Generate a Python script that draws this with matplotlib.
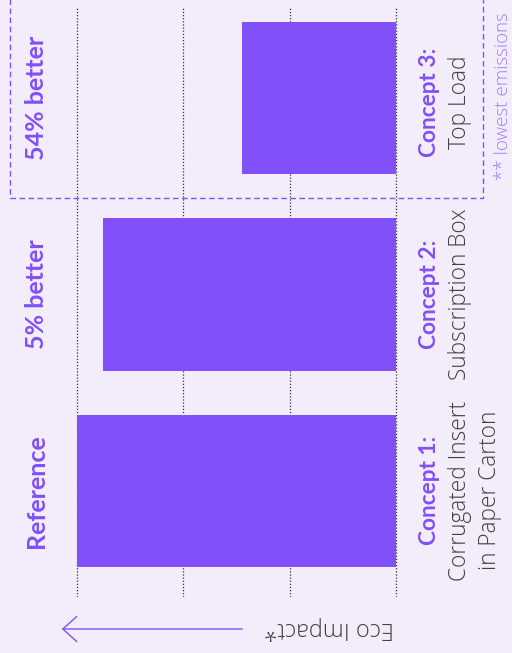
import matplotlib
matplotlib.use("Agg")
import matplotlib.pyplot as plt
from matplotlib.patches import Rectangle, FancyArrowPatch
from matplotlib import transforms

# ---- data ----
categories = ["Reference", "5% better", "54% better"]
concept_titles = ["Concept 1:", "Concept 2:", "Concept 3:"]
concept_names = [["Corrugated Insert", "in Paper Carton"], ["Subscription Box"], ["Top Load"]]
values = [3.0, 2.75, 1.45]
grid_ticks = [0, 1, 2, 3]
axis_label = "Eco Impact*"
note = "** lowest emissions"

BG = "#F3ECFB"
PURPLE = "#8150F8"
GRAY = "#404040"
BOLD_FONT = ["Lato", "DejaVu Sans"]
LIGHT_FONT = ["Open Sans", "DejaVu Sans"]

W, H = 512, 653
fig = plt.figure(figsize=(W / 100, H / 100), dpi=100, facecolor=BG)

def fx(px):
    return px / W

def fy(py):
    return (H - py) / H

ax = fig.add_axes([fx(60), fy(597), (410 - 60) / W, (597 - 7) / H])
ax.patch.set_alpha(0)
ax.set_xlim(3.155, -0.1266)
ax.set_ylim(-0.541, 2.464)
ypos = list(range(len(values)))
ax.barh(ypos, values, height=0.776, color=PURPLE, zorder=3)
ax.set_xticks(grid_ticks)
ax.set_yticks([])
ax.tick_params(axis="x", length=0, labelbottom=False)
ax.grid(axis="x", linestyle=(0, (1, 1.5)), color="#333333", linewidth=0.9, zorder=0)
ax.set_axisbelow(True)
for s in ax.spines.values():
    s.set_visible(False)

tr = transforms.blended_transform_factory(fig.transFigure, ax.transData)

for i, lab in enumerate(categories):
    ax.text(fx(36), i, lab, transform=tr, rotation=90, ha="center", va="center",
            color=PURPLE, fontsize=18, fontweight="bold", family=BOLD_FONT, clip_on=False)

for i, (t, names) in enumerate(zip(concept_titles, concept_names)):
    off = 0.02 if i == 2 else 0.0
    ax.text(fx(430), i - off, t, transform=tr, rotation=90, ha="center", va="center",
            color=PURPLE, fontsize=16.3, fontweight="bold", family=BOLD_FONT, clip_on=False)
    for j, n in enumerate(names):
        ax.text(fx(460 + 30 * j), i - off, n, transform=tr, rotation=90, ha="center",
                va="center", color=GRAY, fontsize=16.3, fontweight="light", family=LIGHT_FONT,
                clip_on=False)

box = Rectangle((fx(10), fy(198)), (483 - 10) / W, (198 + 5) / H, transform=fig.transFigure,
                fill=False, edgecolor=PURPLE, linewidth=1.0, linestyle=(0, (4, 2.5)))
fig.patches.append(box)

fig.text(fx(329), fy(628), axis_label, rotation=180, ha="center", va="center",
         color=GRAY, fontsize=17, fontweight="light", family=LIGHT_FONT)
arr = FancyArrowPatch((fx(245), fy(629)), (fx(59), fy(629)), transform=fig.transFigure,
                      arrowstyle="->,head_length=0.5,head_width=0.45", mutation_scale=20,
                      color=PURPLE, linewidth=1.0)
fig.patches.append(arr)

fig.text(fx(503), fy(180), note, rotation=90, ha="center", va="bottom",
         color="#A080F6", fontsize=13.5, fontweight="light", family=LIGHT_FONT)

fig.savefig("out.png", dpi=100, facecolor=BG)
